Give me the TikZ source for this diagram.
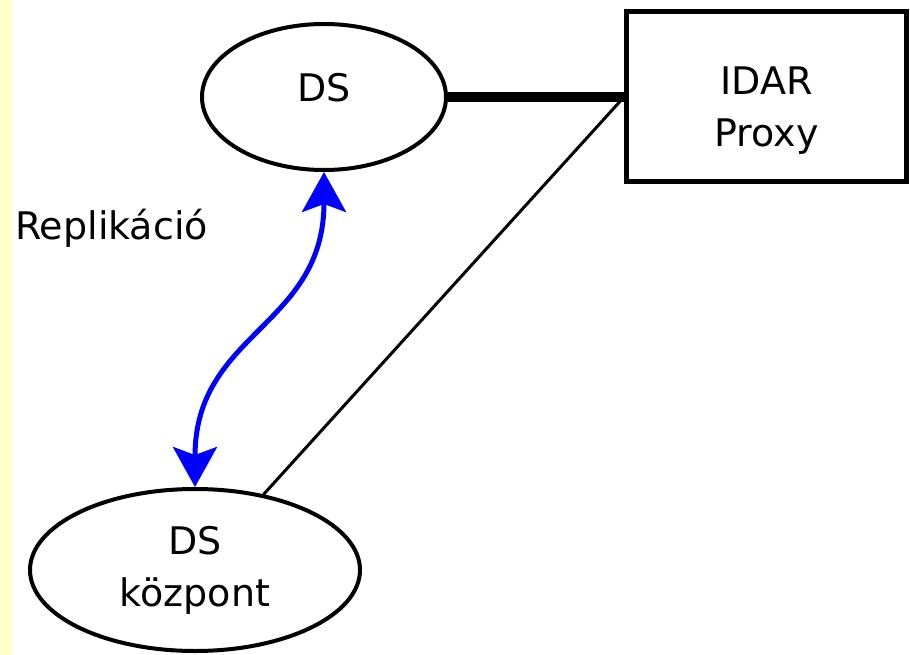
\documentclass[tikz,border=0pt]{standalone}
\usepackage{fontspec}
\setmainfont{DejaVu Sans}
\usepackage{tikz}
\usetikzlibrary{positioning, shapes.geometric, arrows.meta}
\definecolor{stripyellow}{RGB}{255,255,204}
\tikzstyle{dsnode} = [ellipse, draw=black, line width=4pt, fill=white, minimum width=244pt, minimum height=146pt, inner sep=0pt, align=center, font=\fontsize{38}{52}\selectfont]
\tikzstyle{proxybox} = [rectangle, draw=black, line width=5pt, fill=white, minimum width=280pt, minimum height=170pt, inner sep=0pt, align=center, font=\fontsize{38}{52}\selectfont]
\tikzstyle{labeltext} = [inner sep=0pt, font=\fontsize{38}{52}\selectfont]
\tikzstyle{thicklink} = [line width=10pt]
\tikzstyle{thinlink} = [line width=3pt]
\tikzstyle{repl} = [blue, line width=5pt, <->, >={Stealth[length=40pt, width=44pt, inset=8pt]}]

\begin{document}
\begin{tikzpicture}[x=1pt, y=-1pt, node distance=176pt]
        \useasboundingbox (0,0) rectangle (910,655);
        \fill[stripyellow] (0,0) rectangle (12,655);

        \node[dsnode, text depth=20pt]                         (ds)      at (324,97)  {DS};
        \node[proxybox, text height=106.5pt, right=of ds]      (proxy)   {IDAR\\Proxy};
        \node[dsnode, minimum width=330pt, minimum height=162pt] (kozpont) at (195,570) {DS\\központ};
        \node[labeltext, anchor=base west]                     (repl)    at (15,240)  {Replikáció};

        \draw[thicklink] (ds)     -- (proxy);
        \draw[thinlink]  (proxy.west) -- (kozpont);
        \draw[repl] (kozpont.north) .. controls +(0,-155) and +(0,155) .. (ds.south);
    \end{tikzpicture}
\end{document}
